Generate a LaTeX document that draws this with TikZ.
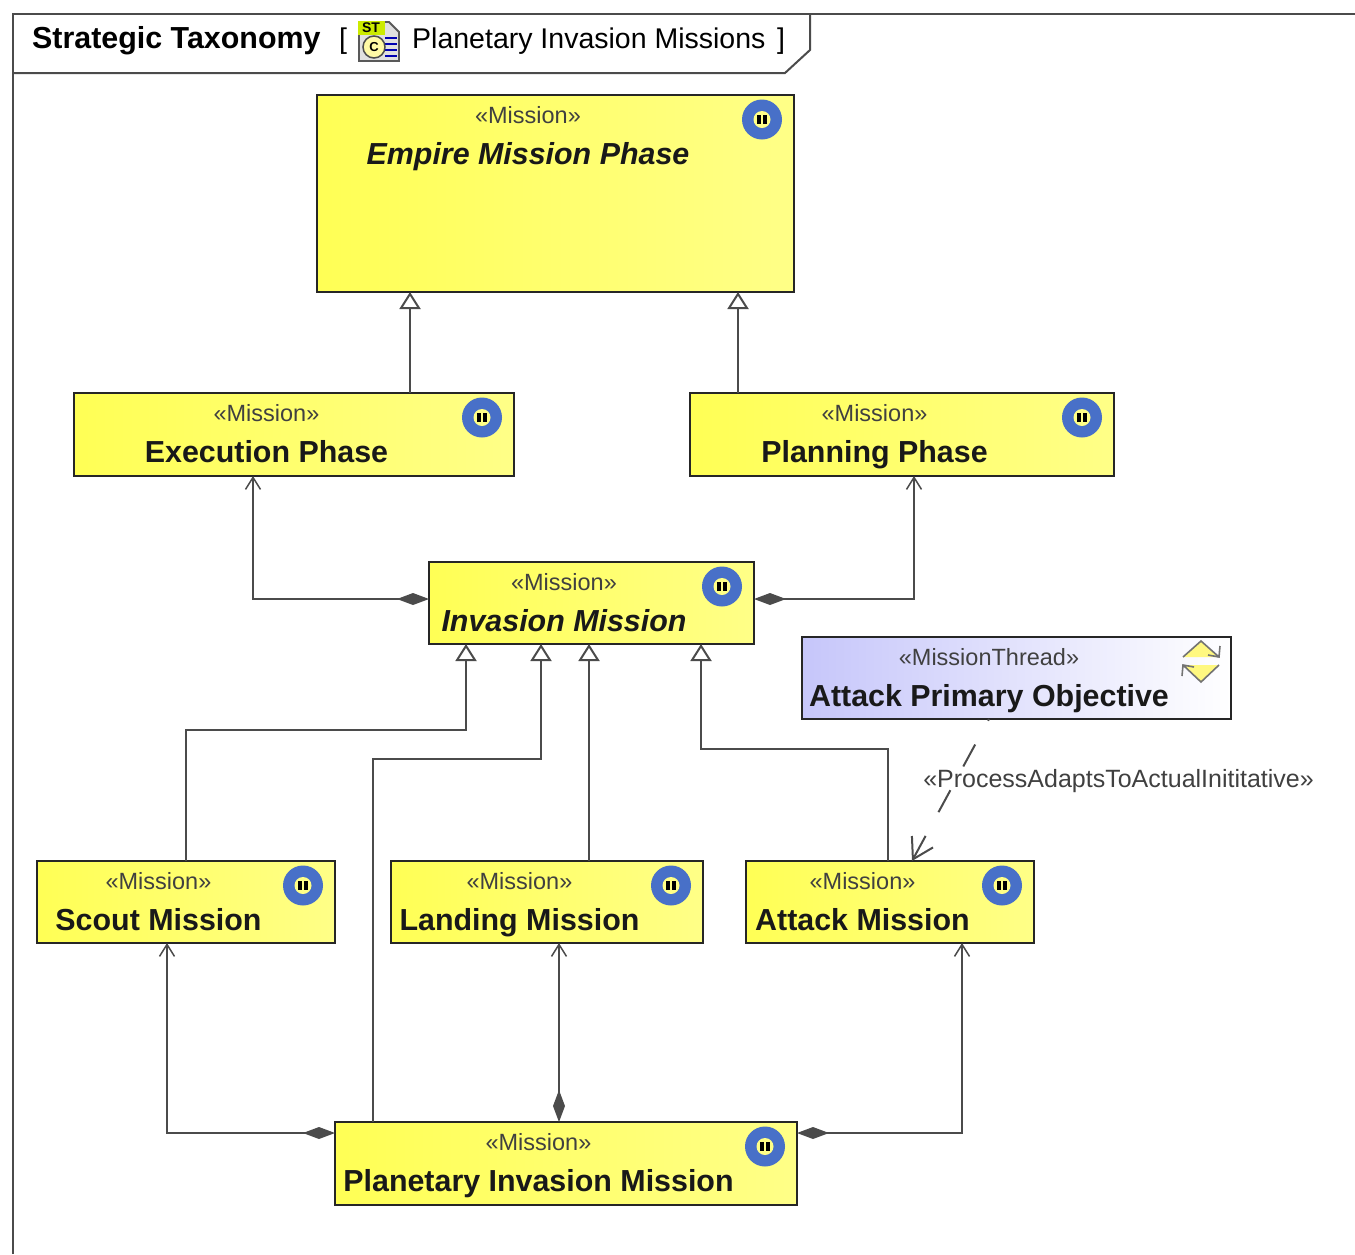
\documentclass[tikz,border=0pt]{standalone}
\usepackage{fontspec}
\setmainfont{Liberation Sans}
\usetikzlibrary{arrows.meta,positioning,shapes.geometric}
\definecolor{missionleft}{RGB}{255,255,85}
\definecolor{missionright}{RGB}{255,255,135}
\definecolor{threadleft}{RGB}{198,198,250}
\definecolor{iconblue}{RGB}{72,112,200}
\definecolor{linegray}{RGB}{75,75,75}
\begin{document}
\begin{tikzpicture}[x=1pt, y=-1pt]

    \tikzstyle{mission} = [
        rectangle,
        draw=black!85,
        line width=2.6pt,
        outer sep=0pt,
        inner sep=0pt,
        left color=missionleft,
        right color=missionright,
        minimum height=82pt,
    ]
    \tikzstyle{thread} = [
        mission,
        left color=threadleft,
        right color=white,
    ]
    \tikzstyle{caption} = [
        anchor=north,
        align=center,
        inner sep=0pt,
        text=black!90,
        yshift=-11pt,
        xshift=-27.5pt,
        font=\fontsize{30.4}{41}\selectfont,
    ]
    \tikzstyle{stereo} = [
        inner sep=0pt,
        text=black!75,
        font=\fontsize{25}{28}\selectfont,
    ]
    \tikzstyle{badge} = [
        circle,
        fill=iconblue,
        minimum size=40pt,
        inner sep=0pt,
    ]
    \tikzstyle{face} = [
        circle,
        fill=missionright,
        minimum size=17pt,
        inner sep=0pt,
    ]
    \tikzstyle{gen} = [
        draw=linegray,
        line width=2pt,
        -{Triangle[open,fill=white,length=17pt,width=21pt,line width=2pt]},
    ]
    \tikzstyle{comp} = [
        draw=linegray,
        line width=2pt,
        {Diamond[fill=linegray,length=32pt,width=12pt]}-{Straight Barb[length=12pt,width=15pt,line width=1.5pt]},
    ]
    \tikzstyle{dep} = [
        draw=linegray,
        line width=2pt,
        dash pattern=on 25pt off 27pt,
        dash phase=23pt,
        -{Straight Barb[length=20pt,width=24pt,line width=2pt]},
    ]

    \newcommand{\capname}[2][]{{\bfseries#1#2}}
    \newcommand{\capstereo}[1]{{\fontsize{23.5}{41}\selectfont\mdseries\color{black!75}«#1»}}

    \useasboundingbox (0,0) rectangle (1355,1254);

    % frame and its tab
    \draw[draw=linegray, line width=2pt] (13,1254) -- (13,14) -- (1355,14);
    \draw[draw=linegray, line width=2pt] (13,73) -- (785,73) -- (810,50) -- (810,14);

    \node [anchor=west, inner sep=0pt, font=\fontsize{30.4}{34}\selectfont\bfseries] (dia) at (32,41) {Strategic Taxonomy};
    \node [anchor=west, inner sep=0pt, font=\fontsize{28.5}{34}\selectfont] (brl) at (339,41) {[};
    \node [anchor=west, inner sep=0pt, font=\fontsize{28.5}{34}\selectfont] (dit) at (412,41) {Planetary Invasion Missions};
    \node [anchor=west, inner sep=0pt, font=\fontsize{28.5}{34}\selectfont] (brr) at (777,41) {]};

    % diagram kind icon
    \draw[fill=black!12, draw=black!65, line width=1.8pt] (359,22) -- (389,22) -- (399,32) -- (399,61) -- (359,61) -- cycle;
    \fill[fill=green!60!black!20!yellow] (358,21) rectangle (385,35);
    \node [inner sep=0pt, font=\fontsize{14}{14}\selectfont\bfseries] (icst) at (371,28) {ST};
    \draw[blue!70!black, line width=1.8pt] (385,38) -- (397,38) (385,44) -- (397,44) (385,50) -- (397,50) (385,56) -- (397,56);
    \node [circle, draw=black!70, fill=yellow!35, line width=1.5pt, minimum size=22pt, inner sep=0pt, font=\fontsize{13}{13}\selectfont\bfseries] (icc) at (374,47) {C};

    % mission blocks
    \node [mission, minimum width=477pt, minimum height=197pt] (emp) at (555.5,193.5) {};
    \node [mission, minimum width=440pt, minimum height=83pt, below=101pt of emp, xshift=-261.5pt] (exe) {};
    \node [mission, minimum width=424pt, minimum height=83pt, below=101pt of emp, xshift=346.5pt] (pln) {};
    \node [mission, minimum width=325pt, below=86pt of exe, xshift=297.5pt] (inv) {};
    \node [thread, minimum width=429pt, right=48pt of inv, yshift=-75pt] (thr) {};
    \node [mission, minimum width=298pt, below=217pt of inv, xshift=-405.5pt] (sco) {};
    \node [mission, minimum width=312pt, right=56pt of sco] (lan) {};
    \node [mission, minimum width=288pt, right=43pt of lan] (att) {};
    \node [mission, minimum width=462pt, minimum height=83pt, below=179pt of lan, xshift=19pt] (pla) {};

    % block texts
    \node [caption] (empt) at (emp.north) {\capstereo{Mission}\\\capname[\itshape]{Empire Mission Phase}};
    \node [caption] (exet) at (exe.north) {\capstereo{Mission}\\\capname{Execution Phase}};
    \node [caption] (plnt) at (pln.north) {\capstereo{Mission}\\\capname{Planning Phase}};
    \node [caption] (invt) at (inv.north) {\capstereo{Mission}\\\capname[\itshape]{Invasion Mission}};
    \node [caption] (thrt) at (thr.north) {\capstereo{MissionThread}\\\capname{Attack Primary Objective}};
    \node [caption] (scot) at (sco.north) {\capstereo{Mission}\\\capname{Scout Mission}};
    \node [caption] (lant) at (lan.north) {\capstereo{Mission}\\\capname{Landing Mission}};
    \node [caption] (attt) at (att.north) {\capstereo{Mission}\\\capname{Attack Mission}};
    \node [caption] (plat) at (pla.north) {\capstereo{Mission}\\\capname{Planetary Invasion Mission}};

    % badges
    \foreach \blk in {emp,exe,pln,inv,sco,lan,att,pla} {
        \node [badge] (\blk b) at ([xshift=-32pt,yshift=-24.5pt]\blk.north east) {};
        \node [face] (\blk f) at (\blk b) {};
        \fill[black] ([xshift=-5pt,yshift=5pt]\blk b.center) rectangle ([xshift=-1pt,yshift=-4pt]\blk b.center);
        \fill[black] ([xshift=1pt,yshift=5pt]\blk b.center) rectangle ([xshift=5pt,yshift=-4pt]\blk b.center);
    }

    % thread icon
    \fill[fill=yellow!50] (1183,657) -- (1201,641) -- (1219,657) -- cycle;
    \fill[fill=yellow!50] (1183,665) -- (1201,682) -- (1219,665) -- cycle;
    \draw[draw=black!55, line width=1.6pt] (1183,657) -- (1201,641) -- (1219,657) (1208,655) -- (1219,657) -- (1220,646);
    \draw[draw=black!55, line width=1.6pt] (1219,665) -- (1201,682) -- (1183,665) (1194,667) -- (1183,665) -- (1182,676);

    % generalizations
    \path [gen] ([xshift=-145.5pt]emp.south |- exe.north) -- ([xshift=-145.5pt]emp.south);
    \path [gen] ([xshift=182.5pt]emp.south |- pln.north) -- ([xshift=182.5pt]emp.south);
    \path [gen] (sco.north) |- ++(0,-131) -| ([xshift=-125.5pt]inv.south);
    \path [gen] ([xshift=-193pt]pla.north) |- ++(0,-363) -| ([xshift=-50.5pt]inv.south);
    \path [gen] ([xshift=42pt]lan.north) -- ([xshift=-2.5pt]inv.south);
    \path [gen] ([xshift=-2pt]att.north) |- ++(0,-112) -| ([xshift=109.5pt]inv.south);

    % compositions
    \path [comp] ([yshift=4pt]inv.west) -| ([xshift=-41pt]exe.south);
    \path [comp] ([yshift=4pt]inv.east) -| ([xshift=12pt]pln.south);
    \path [comp] ([yshift=30.5pt]pla.west) -| ([xshift=-19pt]sco.south);
    \path [comp] ([xshift=-7pt]pla.north) -- ([xshift=12pt]lan.south);
    \path [comp] ([yshift=30.5pt]pla.east) -| ([xshift=72pt]att.south);

    % process link
    \path [dep] ([xshift=-27.5pt]thr.south) -- ([xshift=22pt]att.north) node [pos=0.425, right=-34pt, yshift=-2pt, stereo] (dept) {«ProcessAdaptsToActualInititative»};

\end{tikzpicture}
\end{document}
